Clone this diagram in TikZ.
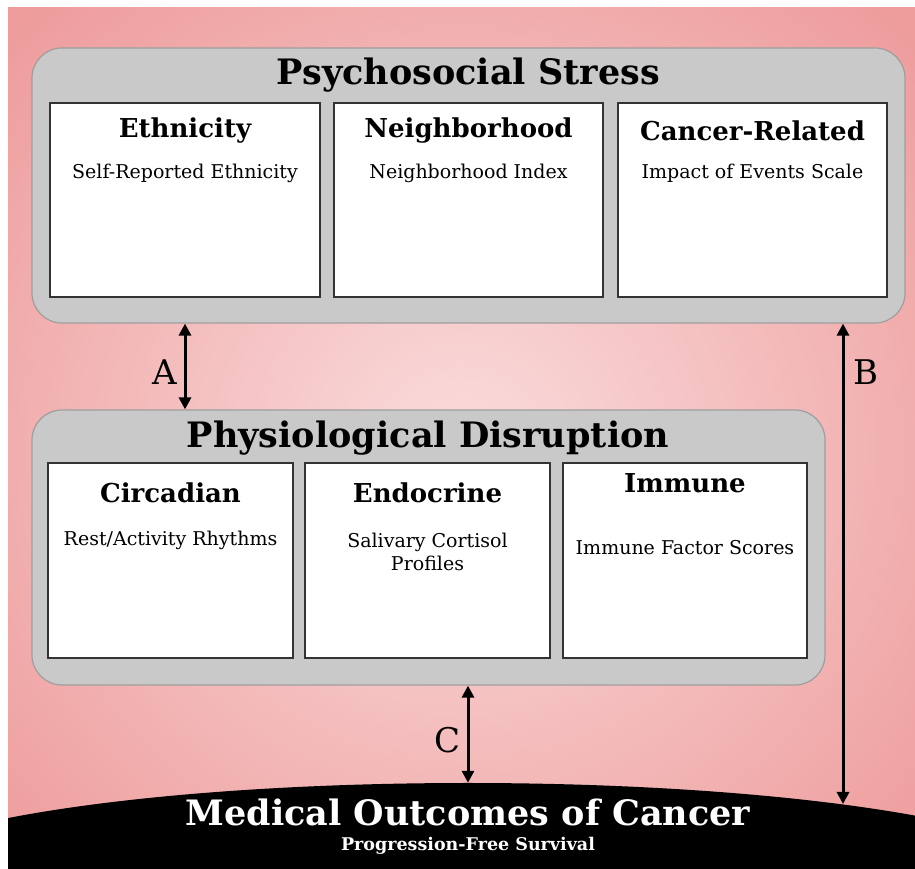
\documentclass[tikz,border=0pt]{standalone}
\usepackage{fontspec}
\setmainfont{DejaVu Serif}
\usetikzlibrary{shapes.geometric,arrows.meta,calc}
\definecolor{bgin}{HTML}{FADCDC}
\definecolor{bgout}{HTML}{EE9C9C}
\definecolor{boxgray}{HTML}{C9C9C9}
\definecolor{boxedge}{HTML}{9E9E9E}
\definecolor{inedge}{HTML}{333333}
\begin{document}
\begin{tikzpicture}[x=1pt,y=1pt,
  graybox/.style={draw=boxedge,line width=1.2pt,fill=boxgray,rounded corners=30pt,inner sep=0pt},
  whitebox/.style={draw=inedge,line width=1.6pt,fill=white,inner sep=0pt},
  bigtitle/.style={font=\fontsize{35}{39}\selectfont\bfseries},
  heading/.style={font=\fontsize{26}{30}\selectfont\bfseries},
  subtext/.style={font=\fontsize{19}{23}\selectfont,align=center},
  letter/.style={font=\fontsize{34}{38}\selectfont},
  arr/.style={line width=3pt,{Triangle[length=12pt,width=12pt]}-{Triangle[length=12pt,width=12pt]}}
]
\useasboundingbox (0,0) rectangle (915,869);
\fill[white] (0,0) rectangle (915,869);
\begin{scope}
  \clip (8,0) rectangle (915,861);
  \node[draw=none,inner sep=0pt,minimum width=1250,minimum height=1200,shading=radial,inner color=bgin,outer color=bgout] (bg) at (461,420) {};
  \node[ellipse,fill=black,inner sep=0pt,minimum width=1200,minimum height=196] (mo) at (468,-12) {};
\end{scope}
% top group
\node[graybox,minimum width=873,minimum height=275] (ps) at (468.5,683.5) {};
\node[bigtitle] (pst) at (468,794) {Psychosocial Stress};
\node[whitebox,minimum width=270,minimum height=194] (eth) at (185,669) {};
\node[whitebox,minimum width=269,minimum height=194] (nei) at (468.5,669) {};
\node[whitebox,minimum width=269,minimum height=194] (can) at (752.5,669) {};
\node[heading] (etht) at (185,738) {Ethnicity};
\node[subtext] (eths) at (185,696) {Self-Reported Ethnicity};
\node[heading] (neit) at (468.5,738) {Neighborhood};
\node[subtext] (neis) at (468.5,696) {Neighborhood Index};
\node[heading] (cant) at (752.5,738) {Cancer-Related};
\node[subtext] (cans) at (752.5,696) {Impact of Events Scale};
% bottom group
\node[graybox,minimum width=793,minimum height=275] (pd) at (428.5,321.5) {};
\node[bigtitle] (pdt) at (428,431) {Physiological Disruption};
\node[whitebox,minimum width=245,minimum height=195] (cir) at (170.5,308.5) {};
\node[whitebox,minimum width=245,minimum height=195] (end) at (427.5,308.5) {};
\node[whitebox,minimum width=244,minimum height=195] (imm) at (685,308.5) {};
\node[heading] (cirt) at (170.5,376) {Circadian};
\node[subtext] (cirs) at (170.5,329) {Rest/Activity Rhythms};
\node[heading] (endt) at (427.5,376) {Endocrine};
\node[subtext] (ends) at (427.5,317) {Salivary Cortisol\\Profiles};
\node[heading] (immt) at (685,386) {Immune};
\node[subtext] (imms) at (685,321) {Immune Factor Scores};
% outcome text
\node[font=\fontsize{35}{39}\selectfont\bfseries,text=white] (mot) at (468,57) {Medical Outcomes of Cancer};
\node[font=\fontsize{17.5}{21}\selectfont\bfseries,text=white] (mos) at (468,23) {Progression-Free Survival};
% arrows
\coordinate (xA) at (185,0);
\coordinate (xB) at (843,0);
\coordinate (bEnd) at (843,65);
\draw[arr] (ps.south -| xA) -- (pd.north -| xA);
\draw[arr] (ps.south -| xB) -- (bEnd);
\draw[arr] (pd.south) ++(39.5,0) coordinate (cTop) -- (mo.north);
\node[letter] (la) at (165,497) {A};
\node[letter] (lb) at (866,497) {B};
\node[letter] (lc) at (448,129) {C};
\end{tikzpicture}
\end{document}
